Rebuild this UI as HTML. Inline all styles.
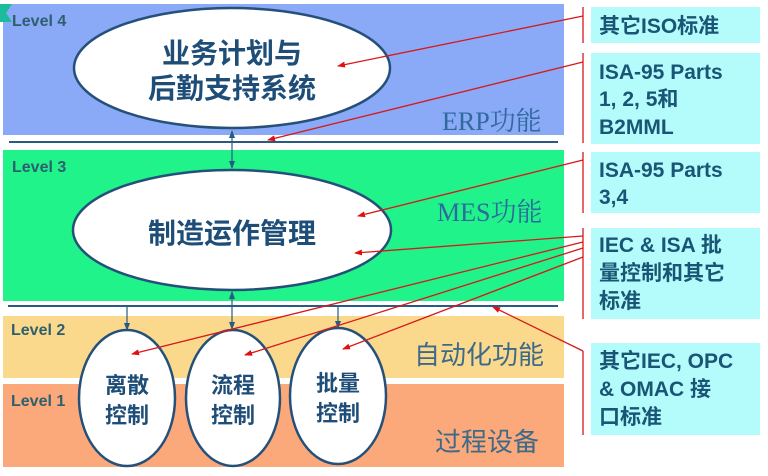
<!DOCTYPE html>
<html><head><meta charset="utf-8"><style>
html,body{margin:0;padding:0;background:#fff;}
svg{display:block;}
.lv{font-family:"Liberation Sans",sans-serif;font-weight:bold;font-size:16px;fill:#2d5f6e;}
.el{font-family:"Liberation Sans","Noto Sans CJK SC",sans-serif;font-weight:bold;fill:#1e4e78;}
.rb{font-family:"Liberation Sans","Noto Sans CJK SC",sans-serif;font-weight:bold;font-size:21px;fill:#1a5575;}
.fn{font-family:"Liberation Serif","Noto Serif CJK SC",serif;font-size:26px;fill:#2e6a9e;}
.fs{font-family:"Liberation Sans","Noto Sans CJK SC",sans-serif;font-size:26px;fill:#3e6a8a;}
</style></head><body>
<svg width="768" height="476" viewBox="0 0 768 476" xmlns="http://www.w3.org/2000/svg">
<defs>
<marker id="ra" markerWidth="8" markerHeight="8" refX="7" refY="4" orient="auto" markerUnits="userSpaceOnUse"><path d="M0,1 L8,4 L0,7 Z" fill="#e01010"/></marker>
<marker id="ba" markerWidth="8" markerHeight="8" refX="7" refY="4" orient="auto" markerUnits="userSpaceOnUse"><path d="M0,1 L8,4 L0,7 Z" fill="#2a5a80"/></marker>
<marker id="bs" markerWidth="8" markerHeight="8" refX="1" refY="4" orient="auto" markerUnits="userSpaceOnUse"><path d="M8,1 L0,4 L8,7 Z" fill="#2a5a80"/></marker>
</defs>
<rect x="3" y="4" width="561" height="131" fill="#8aa9f6"/>
<rect x="3" y="150" width="561" height="151" fill="#1ff38a"/>
<rect x="3" y="316" width="561" height="62" fill="#fbd98c"/>
<rect x="3" y="384" width="561" height="83" fill="#fba87a"/>
<path d="M0,4 L12,4 L6,13 L12,22 L0,22 Z" fill="#1abc9c"/>
<line x1="9" y1="142" x2="558" y2="142" stroke="#2a5a80" stroke-width="2"/>
<line x1="8" y1="306" x2="558" y2="306" stroke="#2a5a80" stroke-width="2"/>
<text class="lv" x="12" y="26">Level 4</text>
<text class="lv" x="12" y="172">Level 3</text>
<text class="lv" x="11" y="335">Level 2</text>
<text class="lv" x="11" y="406">Level 1</text>
<text class="fn" x="442" y="130">ERP功能</text>
<text class="fn" x="437" y="221">MES功能</text>
<text class="fs" x="414" y="364">自动化功能</text>
<text class="fs" x="435" y="451">过程设备</text>
<line x1="232" y1="131" x2="232" y2="168" stroke="#2a5a80" stroke-width="1.2" marker-end="url(#ba)" marker-start="url(#bs)"/>
<line x1="232" y1="292" x2="232" y2="329" stroke="#2a5a80" stroke-width="1.2" marker-end="url(#ba)" marker-start="url(#bs)"/>
<line x1="127" y1="307" x2="127" y2="330" stroke="#2a5a80" stroke-width="1.2" marker-end="url(#ba)"/>
<line x1="338" y1="307" x2="338" y2="328" stroke="#2a5a80" stroke-width="1.2" marker-end="url(#ba)"/>
<ellipse cx="232" cy="68" rx="158" ry="60" fill="#fff" stroke="#24507a" stroke-width="2.5"/>
<ellipse cx="232" cy="230" rx="159" ry="60" fill="#fff" stroke="#24507a" stroke-width="2.5"/>
<ellipse cx="127" cy="398" rx="48" ry="68" fill="#fff" stroke="#24507a" stroke-width="2.5"/>
<ellipse cx="233" cy="398" rx="47" ry="68" fill="#fff" stroke="#24507a" stroke-width="2.5"/>
<ellipse cx="338" cy="396" rx="48" ry="68" fill="#fff" stroke="#24507a" stroke-width="2.5"/>
<text class="el" font-size="28" x="232" y="63" text-anchor="middle">业务计划与</text>
<text class="el" font-size="28" x="232" y="98" text-anchor="middle">后勤支持系统</text>
<text class="el" font-size="28" x="232" y="243" text-anchor="middle">制造运作管理</text>
<text class="el" font-size="22" x="127" y="393" text-anchor="middle">离散</text>
<text class="el" font-size="22" x="127" y="423" text-anchor="middle">控制</text>
<text class="el" font-size="22" x="233" y="393" text-anchor="middle">流程</text>
<text class="el" font-size="22" x="233" y="423" text-anchor="middle">控制</text>
<text class="el" font-size="22" x="338" y="391" text-anchor="middle">批量</text>
<text class="el" font-size="22" x="338" y="421" text-anchor="middle">控制</text>
<rect x="591" y="7" width="169" height="36" fill="#b4fcfc"/>
<rect x="591" y="53" width="169" height="91" fill="#b4fcfc"/>
<rect x="591" y="152" width="169" height="61" fill="#b4fcfc"/>
<rect x="591" y="228" width="169" height="91" fill="#b4fcfc"/>
<rect x="591" y="343" width="169" height="92" fill="#b4fcfc"/>
<text class="rb" x="599" y="33">其它ISO标准</text>
<text class="rb" x="599" y="79">ISA-95 Parts</text>
<text class="rb" x="599" y="106">1, 2, 5和</text>
<text class="rb" x="599" y="134">B2MML</text>
<text class="rb" x="599" y="177">ISA-95 Parts</text>
<text class="rb" x="599" y="204">3,4</text>
<text class="rb" x="599" y="252">IEC &amp; ISA 批</text>
<text class="rb" x="599" y="280">量控制和其它</text>
<text class="rb" x="599" y="308">标准</text>
<text class="rb" x="599" y="368">其它IEC, OPC</text>
<text class="rb" x="599" y="396">&amp;  OMAC 接</text>
<text class="rb" x="599" y="424">口标准</text>
<g stroke="#d81818" stroke-width="1.3" fill="none">
<line x1="583" y1="7" x2="583" y2="43"/>
<line x1="583" y1="53" x2="583" y2="143"/>
<line x1="583" y1="152" x2="583" y2="213"/>
<line x1="583" y1="228" x2="583" y2="319"/>
<line x1="583" y1="351" x2="583" y2="435"/>
<line x1="583" y1="16" x2="338" y2="66" marker-end="url(#ra)"/>
<line x1="583" y1="62" x2="268" y2="140" marker-end="url(#ra)"/>
<line x1="583" y1="160" x2="358" y2="216" marker-end="url(#ra)"/>
<line x1="583" y1="236" x2="355" y2="253" marker-end="url(#ra)"/>
<line x1="583" y1="242" x2="132" y2="354" marker-end="url(#ra)"/>
<line x1="583" y1="248" x2="245" y2="355" marker-end="url(#ra)"/>
<line x1="583" y1="257" x2="343" y2="349" marker-end="url(#ra)"/>
<line x1="583" y1="351" x2="493" y2="307" marker-end="url(#ra)"/>
</g>
</svg>
</body></html>
